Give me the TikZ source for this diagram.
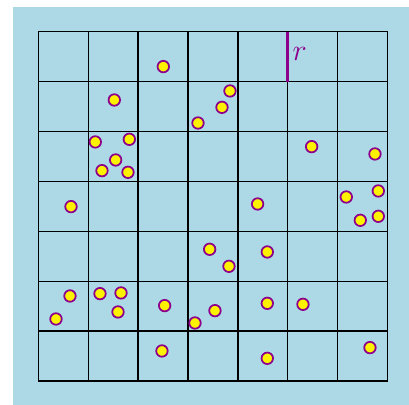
\documentclass[tikz,border=0pt]{standalone}
\usetikzlibrary{positioning}
\definecolor{bgblue}{RGB}{173,216,230}
\definecolor{dotpurple}{RGB}{140,0,140}
\tikzset{
	cell/.style={draw=black, line width=0.7pt},
	dot/.style={circle, draw=dotpurple, line width=1pt, fill=yellow, inner sep=0pt, minimum size=2.3mm},
	radius line/.style={draw=dotpurple, line width=1.9pt},
	rlabel/.style={text=dotpurple, font=\LARGE, inner sep=0pt}
}

\begin{document}
\begin{tikzpicture}
	\useasboundingbox (-0.768,-0.481) rectangle (7.429,7.635);
	\fill[bgblue] (-0.508,-0.481) rectangle (7.429,7.495);
	% grid of cells
	\foreach \i in {0,...,7} {
		\draw[cell] (\i,0) -- (\i,7);
		\draw[cell] (0,\i) -- (7,\i);
	}
	% radius marker
	\coordinate (rtop) at (5,7);
	\coordinate (rbot) at (5,6);
	\draw[radius line] (rtop) -- (rbot);
	\node[rlabel] (rlab) at (5.24,6.55) {$r$};
	% points
	\foreach \x/\y [count=\k] in {
		2.505/6.300, 1.523/5.631, 3.841/5.812, 3.681/5.484, 3.200/5.170,
		1.142/4.790, 1.824/4.843, 1.550/4.429, 1.276/4.215, 1.797/4.182,
		5.478/4.696, 6.747/4.549, 0.655/3.494, 4.395/3.547, 6.172/3.687,
		6.814/3.808, 6.453/3.220, 6.814/3.300, 3.434/2.639, 3.821/2.298,
		4.589/2.585, 0.635/1.703, 0.354/1.242, 1.236/1.750, 1.657/1.764,
		1.597/1.383, 2.532/1.510, 3.540/1.409, 3.140/1.162, 4.589/1.556,
		5.304/1.536, 2.478/0.601, 4.589/0.454, 6.647/0.668}
		\node[dot] (p\k) at (\x,\y) {};
\end{tikzpicture}
\end{document}
